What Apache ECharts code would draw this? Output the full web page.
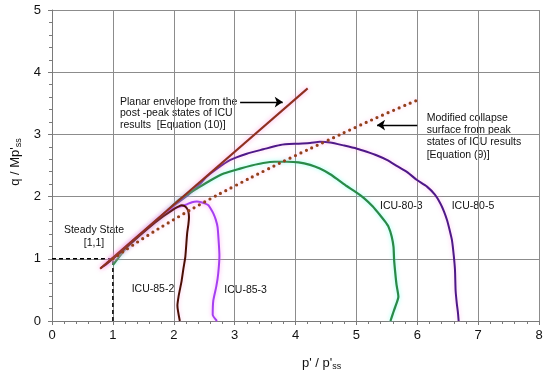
<!DOCTYPE html>
<html><head><meta charset="utf-8">
<script src="https://cdn.jsdelivr.net/npm/echarts@6/dist/echarts.min.js"></script>
<style>html,body{margin:0;padding:0;background:#fff}#c{width:550px;height:381px}</style>
</head><body><div id="c"></div>
<script>
// ---- data ----
const xTicks = [0,1,2,3,4,5,6,7,8];
const yTicks = [0,1,2,3,4,5];

const icu805P = [6.68,6.67,6.65,6.63,6.62,6.60,6.57,6.53,6.49,6.44,6.38,6.29,6.16,5.99,5.84,5.67,5.50,5.34,5.17,5.01,4.80,4.57,4.40,4.24,4.02,3.75,3.47,3.20,2.93,2.71,2.54,2.43,2.25,2.00,1.70,1.40,1.10,0.90];
const icu805Q = [0.00,0.12,0.28,0.49,0.82,1.05,1.30,1.47,1.62,1.76,1.89,2.03,2.16,2.27,2.39,2.49,2.59,2.66,2.72,2.77,2.82,2.87,2.88,2.86,2.85,2.83,2.76,2.69,2.59,2.45,2.32,2.20,2.04,1.85,1.60,1.35,1.09,0.93];

const icu803P = [5.56,5.60,5.64,5.69,5.66,5.64,5.62,5.61,5.58,5.53,5.47,5.39,5.27,5.12,4.98,4.84,4.70,4.57,4.40,4.24,4.05,3.86,3.66,3.47,3.28,3.09,2.82,2.60,2.38,2.10,1.80,1.50,1.20,1.00];
const icu803Q = [0.00,0.12,0.23,0.39,0.58,0.76,0.98,1.19,1.36,1.51,1.60,1.70,1.84,1.98,2.08,2.17,2.27,2.36,2.45,2.51,2.55,2.56,2.56,2.54,2.50,2.45,2.37,2.26,2.13,1.96,1.69,1.43,1.15,0.90];

const icu853P = [2.71,2.64,2.65,2.70,2.73,2.75,2.74,2.72,2.69,2.65,2.61,2.57,2.51,2.45,2.38,2.30,2.20,1.90,1.60,1.30,1.00,0.85];
const icu853Q = [0.00,0.10,0.33,0.56,0.76,1.05,1.25,1.51,1.63,1.73,1.80,1.86,1.89,1.91,1.92,1.91,1.87,1.77,1.52,1.27,1.01,0.88];

const icu852P = [2.10,2.06,2.08,2.10,2.13,2.16,2.19,2.22,2.24,2.25,2.24,2.21,2.17,2.13,1.99,1.70,1.40,1.10,0.90,0.80];
const icu852Q = [0.00,0.25,0.40,0.50,0.65,0.85,1.03,1.41,1.55,1.67,1.76,1.82,1.85,1.86,1.79,1.59,1.34,1.08,0.92,0.85];

const envelopeP = [0.79,4.20];
const envelopeQ = [0.84,3.74];

const collapseP = [1.0,1.5,2.0,2.5,3.0,3.5,4.0,4.5,5.0,5.5,6.0];
const collapseQ = [1.00,1.33,1.63,1.91,2.17,2.42,2.66,2.89,3.12,3.34,3.55];

const steadyP = [0,1,1];
const steadyQ = [1,1,0];

const arrowEnvelope = [[3.09,3.52],[3.79,3.52]];
const arrowCollapse = [[6.00,3.15],[5.34,3.15]];

const zip = (a,b) => a.map((v,i)=>[v,b[i]]);
const FONT = '"Liberation Sans", Arial, sans-serif';

const chart = echarts.init(document.getElementById('c'), null, {renderer:'canvas'});

function curve(name, p, q, color, halo, width) {
  return {
    name, type:'line', data: zip(p,q), showSymbol:false, symbol:'none', smooth:0.2,
    lineStyle:{color, width: width||2, shadowColor: halo, shadowBlur: 4},
    z: 3, silent:true, animation:false
  };
}

const option = {
  animation:false,
  grid:{left:52, right:11, top:10, bottom:60},
  xAxis:{
    type:'value', min:0, max:8, interval:1,
    axisLine:{show:true, onZero:false, lineStyle:{color:'#7a7a7a', width:1}},
    axisTick:{show:true, length:4, lineStyle:{color:'#7a7a7a'}},
    minorTick:{show:true, splitNumber:5, length:3, lineStyle:{color:'#7a7a7a'}},
    splitLine:{show:true, lineStyle:{color:'#8c8c8c', width:1}},
    axisLabel:{color:'#111', fontFamily:FONT, fontSize:13, margin:8}
  },
  yAxis:{
    type:'value', min:0, max:5, interval:1,
    axisLine:{show:true, onZero:false, lineStyle:{color:'#7a7a7a', width:1}},
    axisTick:{show:true, length:4, lineStyle:{color:'#7a7a7a'}},
    minorTick:{show:true, splitNumber:5, length:3, lineStyle:{color:'#7a7a7a'}},
    splitLine:{show:true, lineStyle:{color:'#8c8c8c', width:1}},
    axisLabel:{color:'#111', fontFamily:FONT, fontSize:13, margin:11}
  },
  series:[
    {
      name:'steady', type:'line', data: zip(steadyP, steadyQ), symbol:'none',
      lineStyle:{color:'#000', width:1.5, type:[4,3]}, z:2, silent:true
    },
    curve('ICU-80-5', icu805P, icu805Q, '#4e1888', 'rgba(255,170,235,0.7)', 2),
    curve('ICU-80-3', icu803P, icu803Q, '#2a8a48', 'rgba(120,255,235,0.8)', 2.2),
    curve('ICU-85-3', icu853P, icu853Q, '#a43ff0', 'rgba(255,150,240,0.8)', 2),
    curve('ICU-85-2', icu852P, icu852Q, '#4a0e04', 'rgba(255,160,220,0.6)', 2),
    {
      name:'envelope', type:'line', data: zip(envelopeP, envelopeQ), symbol:'none',
      lineStyle:{color:'#8e3020', width:2, shadowColor:'rgba(255,140,220,0.8)', shadowBlur:5}, z:5, silent:true
    },
    {
      name:'collapse', type:'line', data: zip(collapseP, collapseQ), symbol:'none', smooth:true,
      lineStyle:{color:'#93401c', width:3.2, type:[0,6], cap:'round', shadowColor:'rgba(255,160,220,0.6)', shadowBlur:4}, z:5, silent:true
    },
    {
      name:'arrows', type:'lines', coordinateSystem:'cartesian2d',
      data:[{coords:arrowEnvelope},{coords:arrowCollapse}],
      symbol:['none','arrow'], symbolSize:[0,8],
      lineStyle:{color:'#000', width:1.3, opacity:1, curveness:0}, z:6, silent:true
    }
  ],
  graphic:[
    {type:'text', x:120, y:96, style:{text:'Planar envelope from the\npost -peak states of ICU\nresults  [Equation (10)]', font:'10.5px '+FONT, fill:'#111', lineHeight:11.7}},
    {type:'text', x:426.7, y:112, style:{text:'Modified collapse\nsurface from peak\nstates of ICU results\n[Equation (9)]', font:'10.5px '+FONT, fill:'#111', lineHeight:12.2}},
    {type:'text', x:380, y:206, style:{text:'ICU-80-3', font:'10.5px '+FONT, fill:'#111', verticalAlign:'middle'}},
    {type:'text', x:451.7, y:206, style:{text:'ICU-80-5', font:'10.5px '+FONT, fill:'#111', verticalAlign:'middle'}},
    {type:'text', x:131.7, y:289, style:{text:'ICU-85-2', font:'10.5px '+FONT, fill:'#111', verticalAlign:'middle'}},
    {type:'text', x:224.3, y:290, style:{text:'ICU-85-3', font:'10.5px '+FONT, fill:'#111', verticalAlign:'middle'}},
    {type:'text', x:94, y:230, style:{text:'Steady State', font:'10.5px '+FONT, fill:'#111', align:'center', verticalAlign:'middle'}},
    {type:'text', x:94, y:242.7, style:{text:'[1,1]', font:'10.5px '+FONT, fill:'#111', align:'center', verticalAlign:'middle'}},
    {type:'text', x:302, y:355, style:{
      text:'{a|p\' / p\'}{s|ss}', fill:'#111',
      rich:{a:{fontFamily:FONT, fontSize:13, lineHeight:16, fill:'#111'}, s:{fontFamily:FONT, fontSize:9, lineHeight:16, verticalAlign:'bottom', padding:[6,0,0,0], fill:'#111'}}
    }},
    {type:'text', x:15, y:162, rotation:Math.PI/2, style:{
      text:'{a|q / Mp\'}{s|ss}', fill:'#111', align:'center', verticalAlign:'middle',
      rich:{a:{fontFamily:FONT, fontSize:13, lineHeight:16, fill:'#111'}, s:{fontFamily:FONT, fontSize:9, lineHeight:16, verticalAlign:'bottom', padding:[6,0,0,0], fill:'#111'}}
    }}
  ]
};
chart.setOption(option);
</script>
</body></html>
